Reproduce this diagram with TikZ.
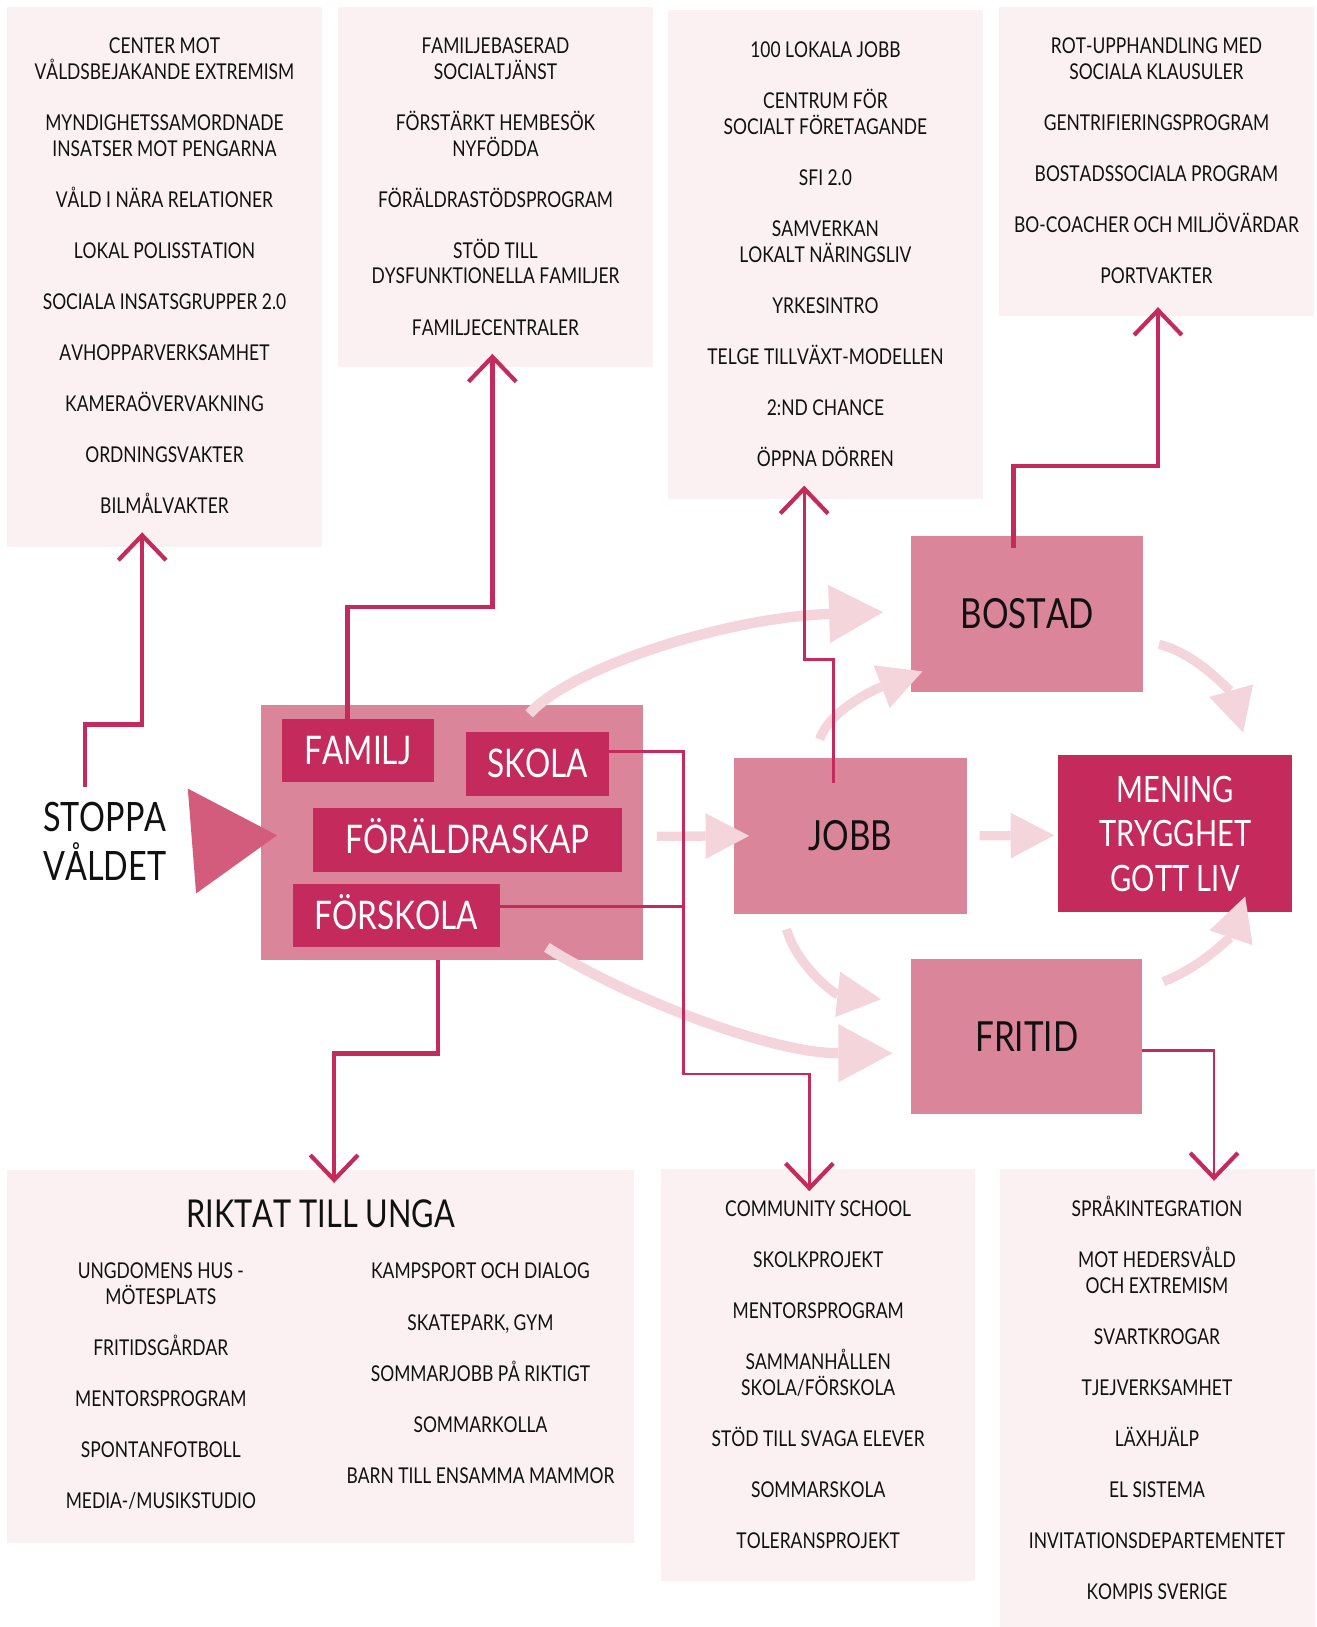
\documentclass[tikz,border=0pt]{standalone}
\usepackage{fontspec}
\newfontfamily\hand{Lato}[FakeStretch=0.80,Kerning=Off]
\usetikzlibrary{arrows.meta,calc}
\definecolor{panelc}{HTML}{FBF1F3}
\definecolor{midc}{HTML}{DA8599}
\definecolor{darkc}{HTML}{C42A5C}
\definecolor{tric}{HTML}{D35B7B}
\definecolor{lightc}{HTML}{F4D5DC}
\definecolor{ink}{HTML}{111111}
\begin{document}
\begin{tikzpicture}[x=1pt,y=-1pt,
  panel/.style={fill=panelc, inner sep=0pt, outer sep=0pt},
  midbox/.style={fill=midc, inner sep=0pt, outer sep=0pt, minimum width=225pt, minimum height=150pt,
    font=\hand\fontsize{40}{46}\selectfont, text=ink, text height=28pt, text depth=0pt},
  darkbox/.style={fill=darkc, inner sep=0pt, outer sep=0pt, text=white},
  onel/.style={font=\hand\fontsize{38}{44}\selectfont, text height=27pt, text depth=0pt},
  item/.style={font=\hand\fontsize{21}{24}\selectfont, text=ink, inner sep=0pt, text height=15pt, text depth=0pt},
  conn/.style={draw=darkc, line width=4.5pt, -{Straight Barb[length=24pt,width=46pt,line width=4pt]}},
  connthin/.style={conn, line width=2.8pt},
  flow/.style={draw=lightc, line width=9pt, -{Triangle[length=42pt,width=44pt,line width=0pt]}},
  flowbig/.style={draw=lightc, line width=10pt, -{Triangle[length=52pt,width=56pt,line width=0pt]}},
]
\useasboundingbox (0,0) rectangle (1269,1568);
\fill[white] (0,0) rectangle (1269,1568);

% ---------- panels ----------
\node[panel, minimum width=303pt, minimum height=520pt] (pA) at (158.5,267) {};
\node[panel, minimum width=303pt, minimum height=347pt] (pB) at (477.5,180.5) {};
\node[panel, minimum width=303pt, minimum height=471pt] (pC) at (795.5,245.5) {};
\node[panel, minimum width=303pt, minimum height=298pt] (pD) at (1114.5,156) {};
\node[panel, minimum width=604pt, minimum height=359pt] (pE) at (309,1307.5) {};
\node[panel, minimum width=303pt, minimum height=397pt] (pF) at (788.5,1325.5) {};
\node[panel, minimum width=303pt, minimum height=441pt] (pG) at (1115.5,1347.5) {};

% ---------- panel texts ----------
\foreach \sn/\tx in {0/{CENTER MOT},1/{VÅLDSBEJAKANDE EXTREMISM},3/{MYNDIGHETSSAMORDNADE},4/{INSATSER MOT PENGARNA},6/{VÅLD I NÄRA RELATIONER},8/{LOKAL POLISSTATION},10/{SOCIALA INSATSGRUPPER 2.0},12/{AVHOPPARVERKSAMHET},14/{KAMERAÖVERVAKNING},16/{ORDNINGSVAKTER},18/{BILMÅLVAKTER}}
  \node[item] (tA\sn) at (158.5,44.5+24.63*\sn) {\tx};
\foreach \sn/\tx in {0/{FAMILJEBASERAD},1/{SOCIALTJÄNST},3/{FÖRSTÄRKT HEMBESÖK},4/{NYFÖDDA},6/{FÖRÄLDRASTÖDSPROGRAM},8/{STÖD TILL},9/{DYSFUNKTIONELLA FAMILJER},11/{FAMILJECENTRALER}}
  \node[item] (tB\sn) at (477.5,44.5+24.63*\sn) {\tx};
\foreach \sn/\tx in {0/{100 LOKALA JOBB},2/{CENTRUM FÖR},3/{SOCIALT FÖRETAGANDE},5/{SFI 2.0},7/{SAMVERKAN},8/{LOKALT NÄRINGSLIV},10/{YRKESINTRO},12/{TELGE TILLVÄXT-MODELLEN},14/{2:ND CHANCE},16/{ÖPPNA DÖRREN}}
  \node[item] (tC\sn) at (795.5,48+24.63*\sn) {\tx};
\foreach \sn/\tx in {0/{ROT-UPPHANDLING MED},1/{SOCIALA KLAUSULER},3/{GENTRIFIERINGSPROGRAM},5/{BOSTADSSOCIALA PROGRAM},7/{BO-COACHER OCH MILJÖVÄRDAR},9/{PORTVAKTER}}
  \node[item] (tD\sn) at (1114.5,44.5+24.63*\sn) {\tx};
\node[font=\hand\fontsize{37}{40}\selectfont, text=ink, inner sep=0pt, text height=26pt, text depth=0pt] (tE) at (309,1170) {RIKTAT TILL UNGA};
\foreach \sn/\tx in {0/{UNGDOMENS HUS -},1/{MÖTESPLATS},3/{FRITIDSGÅRDAR},5/{MENTORSPROGRAM},7/{SPONTANFOTBOLL},9/{MEDIA-/MUSIKSTUDIO}}
  \node[item] (tEl\sn) at (155,1225+24.63*\sn) {\tx};
\foreach \sn/\tx in {0/{KAMPSPORT OCH DIALOG},2/{SKATEPARK, GYM},4/{SOMMARJOBB PÅ RIKTIGT},6/{SOMMARKOLLA},8/{BARN TILL ENSAMMA MAMMOR}}
  \node[item] (tEr\sn) at (463,1225+24.63*\sn) {\tx};
\foreach \sn/\tx in {0/{COMMUNITY SCHOOL},2/{SKOLKPROJEKT},4/{MENTORSPROGRAM},6/{SAMMANHÅLLEN},7/{SKOLA/FÖRSKOLA},9/{STÖD TILL SVAGA ELEVER},11/{SOMMARSKOLA},13/{TOLERANSPROJEKT}}
  \node[item] (tF\sn) at (788.5,1165+24.63*\sn) {\tx};
\foreach \sn/\tx in {0/{SPRÅKINTEGRATION},2/{MOT HEDERSVÅLD},3/{OCH EXTREMISM},5/{SVARTKROGAR},7/{TJEJVERKSAMHET},9/{LÄXHJÄLP},11/{EL SISTEMA},13/{INVITATIONSDEPARTEMENTET},15/{KOMPIS SVERIGE}}
  \node[item] (tG\sn) at (1115,1165+24.63*\sn) {\tx};

% ---------- central boxes ----------
\node[midbox, minimum width=368pt, minimum height=246pt] (big) at (436,802) {};
\node[darkbox, onel, minimum width=146pt, minimum height=61pt] (famil) at (345,723.5) {FAMILJ};
\node[darkbox, onel, minimum width=138pt, minimum height=62pt] (skola) at (518,736) {SKOLA};
\node[darkbox, onel, minimum width=297pt, minimum height=61pt] (foral) at (450.5,809.5) {FÖRÄLDRASKAP};
\node[darkbox, onel, minimum width=200pt, minimum height=61pt] (forsk) at (382,882.5) {FÖRSKOLA};
\node[midbox, minimum width=224pt] (bostad) at (990,592) {BOSTAD};
\node[midbox] (jobb) at (819.5,805.5) {JOBB};
\node[midbox, minimum width=223pt] (fritid) at (989.5,999) {FRITID};
\node[darkbox, minimum width=225pt, minimum height=151pt, align=center,
  font=\hand\fontsize{35}{43}\selectfont] (mening) at (1132.5,803.5) {MENING\\TRYGGHET\\GOTT LIV};

\node[font=\hand\fontsize{39}{47}\selectfont, text=ink, align=center, inner sep=0pt] (stoppa) at (101,811) {STOPPA\\VÅLDET};
\fill[tric] (181,760) -- (267,805) -- (189,861) -- cycle;

% ---------- light flow arrows ----------
\draw[flowbig] ($(big.north)+(74,9)$) .. controls +(40,-45) and +(-150,5) .. ($(bostad.west)+(-27,-2)$);
\draw[flow] ($(big.east)+(13,4)$) -- ($(jobb.west)+(15,0)$);
\draw[flow] ($(jobb.north)+(-29.5,-18)$) .. controls +(10,-30) and +(-40,15) .. ($(bostad.south west)+(11,-20)$);
\draw[flow] ($(jobb.east)+(12,0)$) -- ($(mening.west)+(-4,1.5)$);
\draw[flow] ($(bostad.east)+(15,29)$) .. controls +(40,10) and +(-10,-35) .. ($(mening.north)+(65.5,-22)$);
\draw[flow] ($(fritid.north east)+(20,22)$) .. controls +(40,-15) and +(-12,35) .. ($(mening.south)+(67.5,-15)$);
\draw[flow] ($(jobb.south)+(-61.5,15)$) .. controls +(10,35) and +(-45,-5) .. ($(fritid.west)+(-29,-36)$);
\draw[flowbig] ($(big.south east)+(-93,-12)$) .. controls +(70,45) and +(-120,0) .. ($(fritid.west)+(-18,16)$);

% ---------- connectors ----------
\draw[conn] ($(stoppa.north)+(-19,-15)$) |- ($(pA.south)+(-21.5,171)$) -- ($(pA.south)+(-21.5,-14)$);
\draw[conn] ($(famil.north)+(-10,0)$) |- ($(pB.south)+(-3,231)$) -- ($(pB.south)+(-3,-13)$);
\draw[connthin] ($(jobb.north)+(-16.5,24)$) |- ($(pC.south)+(-20.5,155)$) -- ($(pC.south)+(-20.5,-13)$);
\draw[conn] ($(bostad.north)+(-13,11)$) |- ($(pD.south)+(1.5,144)$) -- ($(pD.south)+(1.5,-9)$);
\draw[connthin] ($(skola.east)+(0,-12)$) -| ($(pF.north)+(-129.5,-92)$) coordinate (sk1) -| ($(pF.north)+(-8.5,21)$);
\coordinate (fk) at ($(forsk.east)+(0,-8.5)$);
\draw[draw=darkc, line width=2.8pt] (fk) -- (fk -| sk1);
\draw[conn] ($(big.south)+(-14,0)$) |- ($(pE.north)+(13,-113)$) -- ($(pE.north)+(13,12)$);
\draw[connthin] ($(fritid.east)+(0,13)$) -| ($(pG.north)+(54.5,11)$);
\end{tikzpicture}
\end{document}
